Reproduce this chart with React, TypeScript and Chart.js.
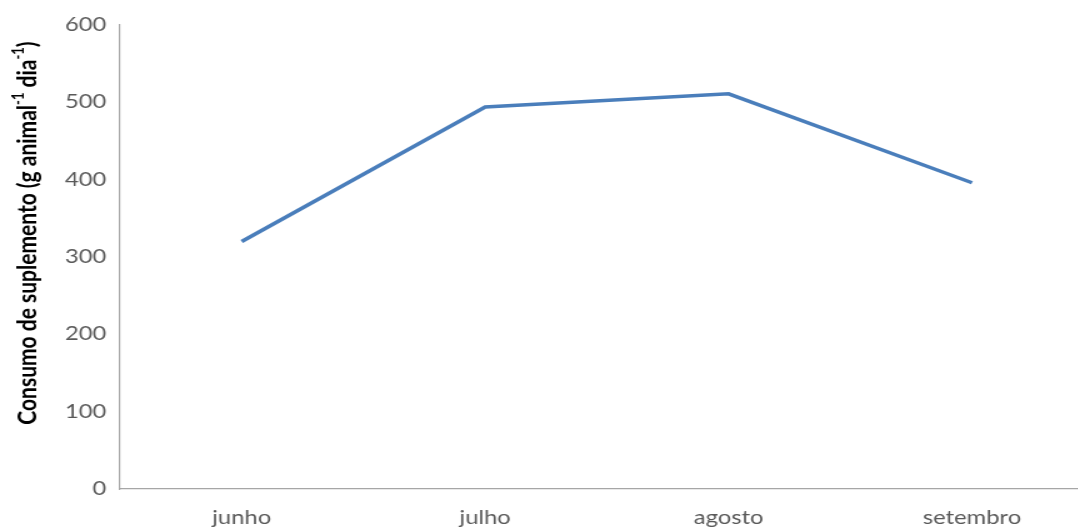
import { useEffect, useRef } from "react";
import { Chart, registerables } from "chart.js";
Chart.register(...registerables);

const months = ["junho", "julho", "agosto", "setembro"];
const consumo = [320, 494, 511, 396];
const yTickValues = [0, 100, 200, 300, 400, 500, 600];
// y-axis title pieces: [text, isSuperscript]
const yTitleParts: [string, boolean][] = [
  ["Consumo de suplemento (g animal", false],
  ["-1", true],
  [" dia", false],
  ["-1", true],
  [")", false],
];

const K = 1.25; // horizontal stretch of the reference image
const W = 880;
const H = 528;

const yTitlePlugin = {
  id: "yTitlePlugin",
  afterDraw(chart: any) {
    const ctx = chart.ctx as CanvasRenderingContext2D;
    const size = 21;
    const supSize = 13;
    const mainFont = `bold ${size}px Lato`;
    const supFont = `bold ${supSize}px Lato`;
    let total = 0;
    for (const [t, sup] of yTitleParts) {
      ctx.font = sup ? supFont : mainFont;
      total += ctx.measureText(t).width;
    }
    const cx = 22;
    const cy = 233;
    ctx.save();
    ctx.translate(cx, cy);
    ctx.rotate(-Math.PI / 2);
    ctx.fillStyle = "#000";
    ctx.textBaseline = "middle";
    ctx.textAlign = "left";
    let x = -total / 2;
    for (const [t, sup] of yTitleParts) {
      ctx.font = sup ? supFont : mainFont;
      ctx.fillText(t, x, sup ? -7 : 0);
      x += ctx.measureText(t).width;
    }
    ctx.restore();
  },
};

export default function App() {
  const ref = useRef<HTMLCanvasElement>(null);
  useEffect(() => {
    const c = ref.current!;
    const chart = new Chart(c, {
      type: "line",
      data: {
        labels: months,
        datasets: [
          {
            data: consumo,
            borderColor: "#4A7EBB",
            borderWidth: 3.5,
            pointRadius: 0,
            tension: 0,
            fill: false,
          },
        ],
      },
      options: {
        responsive: false,
        animation: false,
        devicePixelRatio: 1,
        layout: { padding: { top: 25, right: 5, left: 0, bottom: 0 } },
        plugins: { legend: { display: false }, tooltip: { enabled: false } },
        scales: {
          x: {
            offset: true,
            grid: { display: false, drawTicks: false },
            border: { display: true, color: "#A6A6A6", width: 1.2 },
            ticks: {
              color: "#595959",
              font: { family: "Lato", size: 19 },
              padding: 17,
              maxRotation: 0,
            },
            afterFit: (s: any) => {
              s.height = 39;
            },
          },
          y: {
            min: 0,
            max: 600,
            grid: { display: false, drawTicks: false },
            border: { display: true, color: "#A6A6A6", width: 1.2 },
            afterBuildTicks: (s: any) => {
              s.ticks = yTickValues.map((v) => ({ value: v }));
            },
            ticks: {
              color: "#595959",
              font: { family: "Lato", size: 19 },
              padding: 11,
            },
            afterFit: (s: any) => {
              s.width = 96;
            },
          },
        },
      },
      plugins: [yTitlePlugin],
    } as any);
    return () => chart.destroy();
  }, []);
  return (
    <div
      style={{
        position: "fixed",
        left: 0,
        top: 0,
        width: 1078,
        height: 528,
        overflow: "hidden",
        background: "#fff",
      }}
    >
      <canvas
        ref={ref}
        width={W}
        height={H}
        style={{ width: W * K + "px", height: H + "px", display: "block" }}
      />
    </div>
  );
}
